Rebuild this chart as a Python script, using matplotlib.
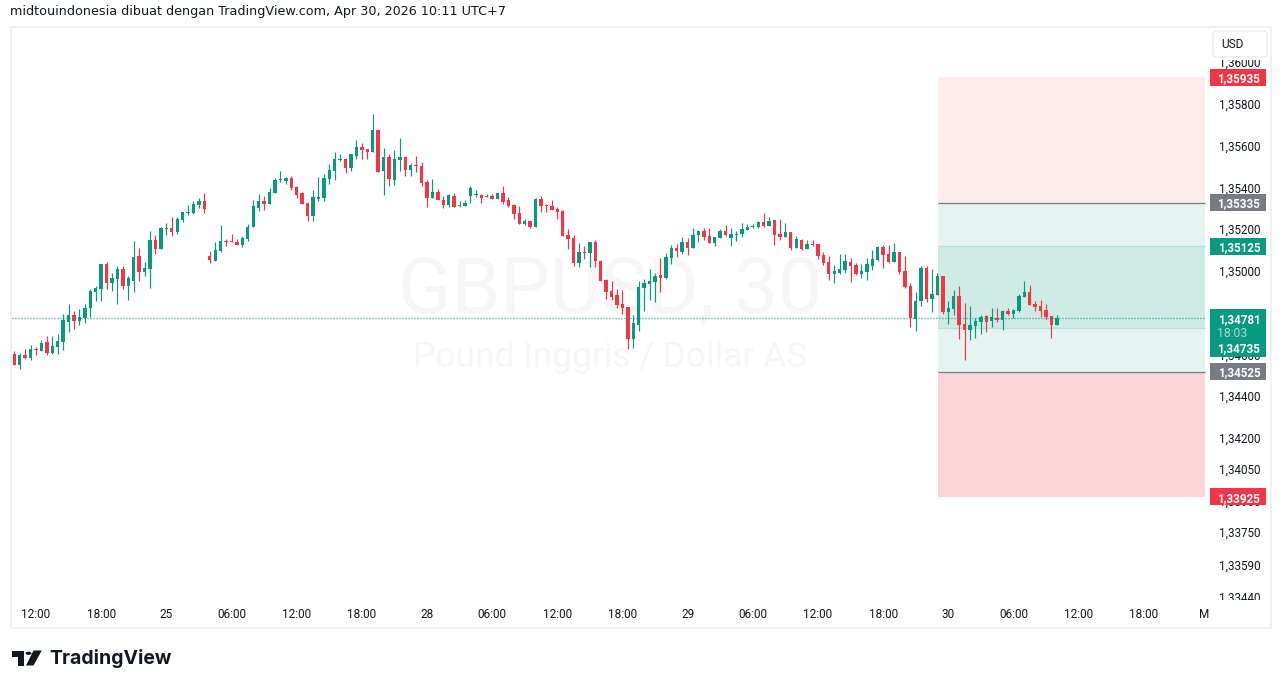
import matplotlib
matplotlib.use("Agg")
import matplotlib.pyplot as plt
import numpy as np
from matplotlib.patches import Rectangle, Polygon, Circle, FancyBboxPatch
from matplotlib.transforms import Bbox, blended_transform_factory, IdentityTransform, ScaledTranslation

# --- data, in 1/100000 of a dollar ---
highs = [
134623,134613,134632,134651,134642,134675,134695,134695,134704,134800,
134848,134814,134824,134848,134920,134934,135040,135049,134997,135030,
135030,134982,135150,135116,135049,135198,135179,135217,135236,135265,
135265,135289,135323,135342,135356,135380,135102,135145,135227,135160,
135184,135160,135174,135232,135347,135376,135366,135404,135452,135486,
135457,135462,135414,135385,135337,135395,135457,135471,135519,135577,
135567,135548,135567,135634,135620,135591,135759,135687,135596,135567,
135586,135644,135558,135524,135558,135529,135443,135448,135400,135366,
135376,135381,135342,135347,135414,135395,135376,135376,135376,135381,
135414,135361,135328,135318,135256,135251,135357,135366,135328,135347,
135313,135299,135208,135179,135141,135127,135146,135155,135059,134968,
134959,134920,134915,134834,134796,134959,134968,135016,134997,135069,
135093,135131,135136,135170,135165,135213,135203,135213,135213,135170,
135208,135227,135213,135198,135237,135232,135232,135246,135285,135266,
135251,135256,135237,135194,135174,135160,135155,135155,135136,135098,
135079,135035,135088,135088,135069,135045,135040,135069,135107,135126,
135131,135131,135141,135098,135079,134949,134906,135031,135031,135016,
134997,134983,134863,134916,134935,134853,134839,134781,134796,134796,
134829,134829,134820,134829,134824,134896,134959,134940,134863,134868,
134848,134791,134796]
lows = [
134556,134536,134584,134580,134603,134623,134603,134608,134608,134627,
134714,134728,134747,134757,134786,134862,134862,134920,134910,134848,
134920,134867,134905,134958,134982,134925,135088,135112,135179,135174,
135184,135241,135275,135279,135308,135284,135045,135054,135098,135126,
135146,135131,135122,135150,135217,135294,135299,135328,135380,135433,
135424,135395,135356,135328,135246,135246,135342,135342,135424,135443,
135534,135476,135486,135543,135543,135543,135577,135481,135371,135414,
135419,135486,135462,135462,135481,135414,135313,135357,135347,135309,
135313,135313,135313,135318,135333,135361,135333,135361,135352,135352,
135328,135313,135256,135232,135227,135213,135217,135290,135290,135299,
135256,135174,135112,135031,135026,135064,135026,135026,134959,134872,
134868,134829,134800,134633,134637,134719,134815,134868,134858,134906,
134968,135040,135074,135088,135083,135117,135146,135155,135141,135127,
135165,135174,135127,135150,135170,135203,135213,135213,135218,135222,
135131,135155,135170,135107,135117,135107,135112,135127,135064,135035,
134963,134949,134992,134997,134954,134987,134973,134964,135011,135055,
135021,135045,135050,134992,134925,134738,134719,134839,134858,134810,
134892,134800,134753,134796,134681,134580,134676,134685,134705,134714,
134738,134762,134724,134796,134781,134810,134882,134844,134815,134786,
134777,134685,134748]
opens = [
134608,134556,134603,134589,134632,134623,134666,134613,134642,134666,
134762,134795,134766,134781,134829,134905,134920,135040,134949,134968,
135016,134934,134958,135078,135001,135016,135155,135112,135208,135212,
135193,135251,135284,135284,135323,135342,135078,135054,135102,135150,
135150,135146,135131,135160,135217,135309,135342,135328,135380,135443,
135438,135452,135409,135380,135332,135270,135352,135356,135448,135486,
135539,135543,135500,135558,135601,135591,135577,135682,135486,135553,
135443,135539,135553,135491,135515,135510,135433,135357,135385,135347,
135323,135366,135318,135318,135366,135371,135371,135361,135366,135352,
135381,135347,135323,135285,135232,135246,135217,135352,135323,135318,
135304,135294,135179,135165,135045,135098,135093,135146,135055,134963,
134911,134892,134848,134834,134681,134748,134925,134944,134954,134987,
134973,135069,135117,135098,135146,135117,135179,135198,135174,135141,
135165,135198,135165,135179,135184,135203,135218,135218,135242,135222,
135251,135184,135170,135194,135117,135155,135112,135136,135136,135083,
135050,134992,134997,135011,135050,135035,134992,135002,135031,135059,
135122,135088,135050,135098,135007,134935,134777,134863,135021,134872,
134892,134983,134810,134824,134887,134753,134724,134743,134762,134791,
134767,134781,134772,134815,134800,134815,134882,134906,134848,134839,
134820,134791,134748]
closes = [
134556,134603,134589,134632,134627,134661,134613,134647,134671,134771,
134795,134766,134786,134829,134910,134925,135040,134949,134973,135016,
134934,134973,135073,135001,135021,135155,135112,135212,135212,135193,
135255,135289,135289,135327,135342,135303,135059,135107,135150,135146,
135146,135131,135165,135217,135318,135342,135328,135385,135443,135448,
135452,135404,135371,135328,135270,135361,135361,135452,135491,135543,
135543,135500,135567,135601,135587,135577,135682,135481,135553,135448,
135543,135553,135491,135515,135510,135428,135357,135385,135347,135323,
135371,135313,135323,135333,135405,135376,135357,135366,135352,135381,
135337,135318,135280,135232,135246,135217,135352,135318,135318,135299,
135290,135174,135160,135045,135098,135093,135146,135055,134959,134906,
134882,134844,134829,134681,134757,134930,134949,134959,134983,134973,
135074,135117,135102,135146,135117,135179,135198,135170,135141,135170,
135198,135179,135184,135184,135208,135218,135222,135242,135222,135246,
135179,135170,135194,135117,135160,135112,135136,135131,135079,135045,
134992,135007,135016,135055,135031,134992,135007,135040,135064,135122,
135083,135050,135098,135002,134930,134781,134863,135021,134872,134896,
134983,134810,134829,134887,134748,134724,134748,134767,134786,134762,
134786,134772,134815,134800,134820,134887,134906,134844,134834,134815,
134786,134748,134781]

price_ticks = [1.36, 1.358, 1.356, 1.354, 1.352, 1.35, 1.348, 1.346, 1.344,
               1.342, 1.3405, 1.339, 1.3375, 1.3359, 1.3344]
time_labels = ['12:00','18:00','25','06:00','12:00','18:00','28','06:00','12:00',
               '18:00','29','06:00','12:00','18:00','30','06:00','12:00','18:00','M']
time_ticks = [4,16,28,40,52,64,76,88,100,112,124,136,148,160,172,184,196,208,219.1]

stop_upper = 1.35935
entry_upper = 1.35335
target_upper = 1.35125
target_lower = 1.34735
entry_lower = 1.34525
stop_lower = 1.33925
last_price = 1.34781
box_start = 170.1
box_end = 219.3
countdown = '18:03'

GREEN = '#089981'; RED = '#f23645'; GREY = '#787b86'; INK = '#131722'
W, H = 1281, 688
plt.rcParams['font.family'] = ['Roboto', 'DejaVu Sans']

fig = plt.figure(figsize=(W/100, H/100), dpi=100, facecolor='white')
L, R, T, B = 12, 1206, 28, 600
ax = fig.add_axes([L/W, 1-B/H, (R-L)/W, (B-T)/H], facecolor='white')
ax.set_xlim((L-14.3)/5.43, (R-14.3)/5.43)
ylim_top = 1.35 + (272.4-T)/20864
ylim_bot = 1.35 - (B-272.4)/20864
ax.set_ylim(ylim_bot, ylim_top)
for s in ax.spines.values():
    s.set_visible(False)

def px(x, y):
    return x/W, 1-y/H

# outer frame
fig.add_artist(Rectangle(px(11, 628), 1260/W, 601/H, transform=fig.transFigure,
                         fill=False, ec='#f0f1f3', lw=1.5, zorder=0.5))

# watermark
ax.text(109.7, 1.34911, 'GBPUSD, 30', ha='center', va='center', fontsize=56.5, color='#f6f6f7', zorder=0.2)
ax.text(109.7, 1.34591, 'Pound Inggris / Dollar AS', ha='center', va='center', fontsize=25.5, color='#f6f6f7', zorder=0.2)

# position boxes
bw = box_end - box_start
ax.add_patch(Rectangle((box_start, entry_upper), bw, stop_upper-entry_upper, fc='#feebec', ec='none', zorder=0.5))
ax.add_patch(Rectangle((box_start, entry_lower), bw, entry_upper-entry_lower, fc='#e5f4f1', ec='none', zorder=0.5))
ax.add_patch(Rectangle((box_start, target_lower), bw, target_upper-target_lower, fc='#cfebe5', ec='none', zorder=0.6))
ax.add_patch(Rectangle((box_start, stop_lower), bw, entry_lower-stop_lower, fc='#fbd5d8', ec='none', zorder=0.5))
ax.hlines([entry_upper, entry_lower], box_start, box_end, color=GREY, lw=0.9, zorder=0.7)
ax.hlines([target_upper, target_lower], box_start, box_end, color='#b5e1d8', lw=0.9, zorder=0.7)

# last price line
ax.axhline(last_price, color=GREEN, lw=1.0, ls=(0, (0.72, 1.44)), zorder=3)

# candles
idx = np.arange(len(opens))
o = np.array(opens)/1e5; c = np.array(closes)/1e5
h = np.array(highs)/1e5; l = np.array(lows)/1e5
colors = [GREEN if a >= b else RED for a, b in zip(c, o)]
ax.vlines(idx, l, h, colors=colors, lw=0.85, zorder=2)
ax.bar(idx, np.abs(c-o), bottom=np.minimum(o, c), width=3.4/5.43, color=colors, lw=0, zorder=2.1)

# axes ticks
ax.yaxis.tick_right()
ax.set_yticks(price_ticks)
ax.set_yticklabels([f'{p:.5f}'.replace('.', ',') for p in price_ticks], fontsize=8.4, color=INK)
ax.tick_params(axis='y', length=0, pad=9.6)
ax.set_xticks(time_ticks)
ax.set_xticklabels(time_labels, fontsize=8.5, color=INK)
ax.tick_params(axis='x', length=0, pad=6)
clip = Bbox([[0, H-600], [W, H-60]])
lift = ScaledTranslation(0, 1.5/100, fig.dpi_scale_trans)
for tk in ax.yaxis.get_major_ticks():
    tk.label2.set_transform(tk.label2.get_transform() + lift)
    tk.label2.set_clip_box(clip)
    tk.label2.set_clip_on(True)

# price tags
pxu = 20864.0
tagx = blended_transform_factory(fig.transFigure, ax.transData)
TAGX = 1239/W
def tag(price, text, col, top=8.5, bottom=8.5):
    ax.add_patch(Rectangle((1210/W, price-bottom/pxu), 56/W, (top+bottom)/pxu, transform=tagx,
                           fc=col, ec='none', clip_on=False, zorder=5))
    ax.text(TAGX, price, text, transform=tagx, ha='center', va='center_baseline', color='white',
            fontsize=8.4, fontweight='bold', clip_on=False, zorder=6)

tag(stop_upper, '1,35935', RED)
tag(entry_upper, '1,35335', GREY)
tag(target_upper, '1,35125', GREEN)
tag(entry_lower, '1,34525', GREY)
tag(stop_lower, '1,33925', RED)
tag(last_price, '1,34781', GREEN, top=9, bottom=39)
ax.text(1232.5/W, last_price-13.5/pxu, countdown, transform=tagx, ha='center', va='center_baseline',
        color='#a9dccf', fontsize=8.8, clip_on=False, zorder=6)
ax.text(TAGX, last_price-29/pxu, f'{target_lower:.5f}'.replace('.', ','), transform=tagx, ha='center',
        va='center_baseline', color='white', fontsize=8.4, fontweight='bold', clip_on=False, zorder=6)

# currency button
fig.add_artist(FancyBboxPatch((1213, H-57), 54, 26, transform=IdentityTransform(),
               boxstyle='round,pad=0,rounding_size=4', fc='white', ec='#e9eaee', lw=0.9, zorder=3))
fig.text(*px(1232.5, 44.5), 'USD', ha='center', va='center', fontsize=8.6, color=INK, zorder=4)

# header
fig.text(*px(10, 11), 'midtouindonesia dibuat dengan TradingView.com, Apr 30, 2026 10:11 UTC+7',
         ha='left', va='center', fontsize=9.2, color=INK, family='DejaVu Sans')

# logo
def poly(points):
    fig.add_artist(Polygon([px(*p) for p in points], closed=True, transform=fig.transFigure, fc='#131722', ec='none'))
poly([(12.3,650.5),(24,650.5),(24,665.5),(18.3,665.5),(18.3,656.5),(12.3,656.5)])
poly([(33.5,650.5),(41.8,650.5),(33.5,665.5),(26,665.5)])
fig.add_artist(Circle(px(28.5,653.3), 3/W, transform=fig.transFigure, fc='#131722', ec='none'))
fig.text(*px(49, 658), 'TradingView', ha='left', va='center', fontsize=14, fontweight='bold', color='#131722', family='Inter')

fig.savefig('out.png', dpi=100)
